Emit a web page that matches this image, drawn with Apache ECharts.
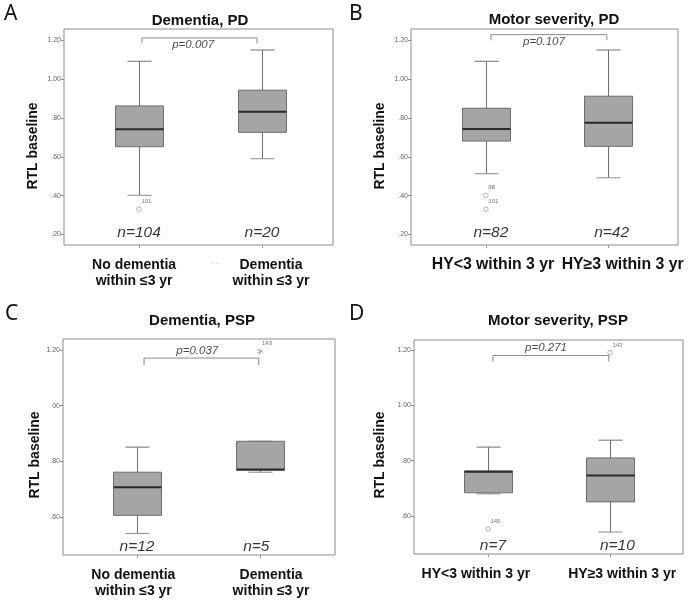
<!DOCTYPE html>
<html><head><meta charset="utf-8">
<script src="https://cdn.jsdelivr.net/npm/echarts@6/dist/echarts.min.js"></script>
<style>html,body{margin:0;padding:0;background:#fff}#c{width:689px;height:600px}</style>
</head><body><div id="c"></div>
<script>
// ---------- data ----------
const categoriesA = ['No dementia\nwithin ≤3 yr', 'Dementia\nwithin ≤3 yr'];
const categoriesB = ['HY<3 within 3 yr', 'HY≥3 within 3 yr'];
const categoriesC = ['No dementia\nwithin ≤3 yr', 'Dementia\nwithin ≤3 yr'];
const categoriesD = ['HY<3 within 3 yr', 'HY≥3 within 3 yr'];
// [lower whisker, Q1, median, Q3, upper whisker]
const boxA = [[0.402, 0.652, 0.742, 0.862, 1.092], [0.590, 0.726, 0.832, 0.943, 1.150]];
const boxB = [[0.513, 0.681, 0.743, 0.850, 1.092], [0.492, 0.654, 0.776, 0.912, 1.150]];
const boxC = [[0.541, 0.606, 0.707, 0.761, 0.851], [0.761, 0.768, 0.771, 0.872, 0.872]];
const boxD = [[0.680, 0.684, 0.760, 0.763, 0.849], [0.542, 0.651, 0.746, 0.810, 0.874]];
// [category index, value, case id]
const outliersA = [[0, 0.330, '101']];
const outliersB = [[0, 0.402, '98'], [0, 0.330, '101']];
const outliersC = [[1, 1.194, '143']];
const outliersD = [[0, 0.553, '145'], [1, 1.190, '143']];
const countsA = ['n=104', 'n=20'];
const countsB = ['n=82', 'n=42'];
const countsC = ['n=12', 'n=5'];
const countsD = ['n=7', 'n=10'];
const pValueA = 'p=0.007';
const pValueB = 'p=0.107';
const pValueC = 'p=0.037';
const pValueD = 'p=0.271';
const titleA = 'Dementia, PD';
const titleB = 'Motor severity, PD';
const titleC = 'Dementia, PSP';
const titleD = 'Motor severity, PSP';
const yTicksAB = [0.2, 0.4, 0.6, 0.8, 1.0, 1.2];
const yTickLabelsAB = ['.20', '.40', '.60', '.80', '1.00', '1.20'];
const yTicksCD = [0.6, 0.8, 1.0, 1.2];
const yTickLabelsC = ['.60', '.80', '00', '1.20'];
const yTickLabelsD = ['.60', '.80', '1.00', '1.20'];
const yAxisName = 'RTL baseline';

// ---------- layout / styles ----------
const FONT = 'Liberation Sans, Arial, sans-serif';
const panels = [
  {letter: 'A', title: titleA, cats: categoriesA, box: boxA, out: outliersA, counts: countsA, p: pValueA,
   yt: yTicksAB, ytl: yTickLabelsAB,
   grid: {left: 64, top: 29, width: 269, height: 216}, x: [-0.61, 1.577], y: [0.146, 1.258],
   nameGap: 24, namePad: 18, labelX: [-0.04, 1.073], labelFont: 14,
   br: {x: [0.024, 0.96], top: 1.212, end: 1.184}, pPos: [0.44, 1.177], nY: 0.21, nX: [0, 1],
   titlePos: [200, 21], letterPos: [4, 14], star: false},
  {letter: 'B', title: titleB, cats: categoriesB, box: boxB, out: outliersB, counts: countsB, p: pValueB,
   yt: yTicksAB, ytl: yTickLabelsAB,
   grid: {left: 411, top: 29, width: 267, height: 216}, x: [-0.615, 1.574], y: [0.146, 1.258],
   nameGap: 24, namePad: 18, labelX: [0.057, 1.12], labelFont: 15.8,
   br: {x: [0.04, 0.99], top: 1.229, end: 1.2}, pPos: [0.475, 1.19], nY: 0.21, nX: [0.04, 1.03],
   titlePos: [554, 20], letterPos: [349, 14], star: false},
  {letter: 'C', title: titleC, cats: categoriesC, box: boxC, out: outliersC, counts: countsC, p: pValueC,
   yt: yTicksCD, ytl: yTickLabelsC,
   grid: {left: 63, top: 339, width: 272, height: 216}, x: [-0.602, 1.61], y: [0.4635, 1.2395],
   nameGap: 18, namePad: 16, labelX: [-0.03, 1.09], labelFont: 14,
   br: {x: [0.057, 0.99], top: 1.171, end: 1.146}, pPos: [0.49, 1.196], nY: 0.492, nX: [0, 0.97],
   titlePos: [202, 321], letterPos: [5, 314], star: true},
  {letter: 'D', title: titleD, cats: categoriesD, box: boxD, out: outliersD, counts: countsD, p: pValueD,
   yt: yTicksCD, ytl: yTickLabelsD,
   grid: {left: 414, top: 340, width: 269, height: 214}, x: [-0.607, 1.598], y: [0.4627, 1.236],
   nameGap: 27, namePad: 16, labelX: [-0.1, 1.1], labelFont: 14,
   br: {x: [0.04, 0.99], top: 1.18, end: 1.158}, pPos: [0.475, 1.207], nY: 0.492, nX: [0.04, 1.06],
   titlePos: [558, 321], letterPos: [349, 314], star: false}
];

const ASTERISK = 'path://M-0.45,-4h0.9v8h-0.9z M-3.7,-2.4l0.45,-0.78l6.95,4l-0.45,0.78z M-3.25,2.4l-0.45,-0.78l6.95,-4l0.45,0.78z';

function renderBox(params, api) {
  const x = api.value(0);
  const c = v => api.coord([x, v]);
  const lo = c(api.value(1)), q1 = c(api.value(2)), md = c(api.value(3)), q3 = c(api.value(4)), hi = c(api.value(5));
  const cx = Math.round(lo[0]) + 0.5, bw = 48, cw = 24;
  const ws = {stroke: '#6e6e6e', lineWidth: 1};
  const ln = (x1, y1, x2, y2, st) => ({type: 'line', shape: {x1, y1, x2, y2}, style: st});
  return {type: 'group', children: [
    ln(cx, hi[1], cx, q3[1], ws),
    ln(cx, q1[1], cx, lo[1], ws),
    ln(cx - cw / 2, hi[1], cx + cw / 2, hi[1], ws),
    ln(cx - cw / 2, lo[1], cx + cw / 2, lo[1], {stroke: '#8a8a8a', lineWidth: 1}),
    {type: 'rect', shape: {x: cx - bw / 2, y: q3[1], width: bw, height: q1[1] - q3[1]},
     style: {fill: '#a5a5a5', stroke: '#6e6e6e', lineWidth: 1}},
    ln(cx - bw / 2, md[1], cx + bw / 2, md[1], {stroke: '#2a2a2a', lineWidth: 2})
  ]};
}

const grids = [], xAxes = [], yAxes = [], series = [], graphics = [];
panels.forEach((P, i) => {
  grids.push(Object.assign({show: true, borderColor: '#8c8c8c', borderWidth: 1, backgroundColor: '#fff'}, P.grid));
  xAxes.push({
    type: 'value', gridIndex: i, min: P.x[0], max: P.x[1], position: 'bottom',
    axisLine: {show: false, onZero: false}, splitLine: {show: false},
    axisTick: {show: true, customValues: [0, 1], length: 3, lineStyle: {color: '#9a9a9a'}},
    axisLabel: {show: true, customValues: P.labelX, formatter: v => (v < 0.5 ? P.cats[0] : P.cats[1]),
      fontFamily: FONT, fontWeight: 'bold', fontSize: P.labelFont, color: '#111', lineHeight: 16, margin: 12}
  });
  yAxes.push({
    type: 'value', gridIndex: i, min: P.y[0], max: P.y[1], position: 'left',
    axisLine: {show: false, onZero: false}, splitLine: {show: false},
    axisTick: {show: true, customValues: P.yt, length: 3, lineStyle: {color: '#8c8c8c'}},
    axisLabel: {show: true, customValues: P.yt,
      formatter: v => { const k = P.yt.findIndex(t => Math.abs(t - v) < 1e-6); return k >= 0 ? P.ytl[k] : ''; },
      fontFamily: FONT, fontSize: 7, color: '#666', margin: 3},
    name: yAxisName, nameLocation: 'middle', nameGap: P.nameGap,
    nameTextStyle: {fontFamily: FONT, fontWeight: 'bold', fontSize: 14, color: '#111', padding: [0, P.namePad, 0, 0]}
  });
  series.push({
    type: 'custom', xAxisIndex: i, yAxisIndex: i, renderItem: renderBox,
    encode: {x: 0, y: [1, 2, 3, 4, 5]},
    data: P.box.map((b, k) => [k].concat(b)), z: 2
  });
  series.push({
    type: 'scatter', xAxisIndex: i, yAxisIndex: i, z: 3,
    symbol: P.star ? ASTERISK : 'circle', symbolSize: P.star ? 6 : 4.5,
    itemStyle: P.star ? {color: '#666'} : {color: '#fff', borderColor: '#8a8a8a', borderWidth: 0.8},
    label: {show: true, formatter: d => d.data[2], position: [5, -8], fontFamily: FONT, fontSize: 6, color: '#555'},
    data: P.out.map(o => [o[0], o[1], o[2]])
  });
  series.push({
    type: 'line', xAxisIndex: i, yAxisIndex: i, z: 3, symbol: 'none', silent: true,
    lineStyle: {color: '#8a8a8a', width: 1},
    data: [[P.br.x[0], P.br.end], [P.br.x[0], P.br.top], [P.br.x[1], P.br.top], [P.br.x[1], P.br.end]]
  });
  const annot = [
    {value: [P.pPos[0], P.pPos[1]], label: {formatter: P.p, fontSize: 11.5, color: '#1a1a1a'}},
    {value: [P.nX[0], P.nY], label: {formatter: P.counts[0], fontSize: 15.5, color: '#000'}},
    {value: [P.nX[1], P.nY], label: {formatter: P.counts[1], fontSize: 15.5, color: '#000'}}
  ];
  series.push({
    type: 'scatter', xAxisIndex: i, yAxisIndex: i, z: 4, symbolSize: 1, silent: true,
    itemStyle: {color: 'rgba(0,0,0,0)'},
    label: {show: true, position: 'inside', fontFamily: FONT, fontStyle: 'italic'},
    data: annot
  });
  graphics.push({type: 'text', x: P.titlePos[0], y: P.titlePos[1],
    style: {text: P.title, font: 'bold 15px ' + FONT, fill: '#111', textAlign: 'center', textVerticalAlign: 'middle'}});
  graphics.push({type: 'text', x: P.letterPos[0], y: P.letterPos[1],
    style: {text: P.letter, font: '21px "Noto Sans", sans-serif', fill: '#111', textAlign: 'left', textVerticalAlign: 'middle'}});
});
graphics.push({type: 'text', x: 215, y: 263, style: {text: '- -', font: '7px ' + FONT, fill: '#c4c4c4', textAlign: 'center', textVerticalAlign: 'middle'}});
graphics.push({type: 'text', x: 560, y: 262, style: {text: '· · ·', font: '7px ' + FONT, fill: '#c4c4c4', textAlign: 'center', textVerticalAlign: 'middle'}});

const chart = echarts.init(document.getElementById('c'), null, {renderer: 'canvas'});
chart.setOption({
  animation: false, backgroundColor: '#fff',
  grid: grids, xAxis: xAxes, yAxis: yAxes, series: series, graphic: graphics
});
</script></body></html>
